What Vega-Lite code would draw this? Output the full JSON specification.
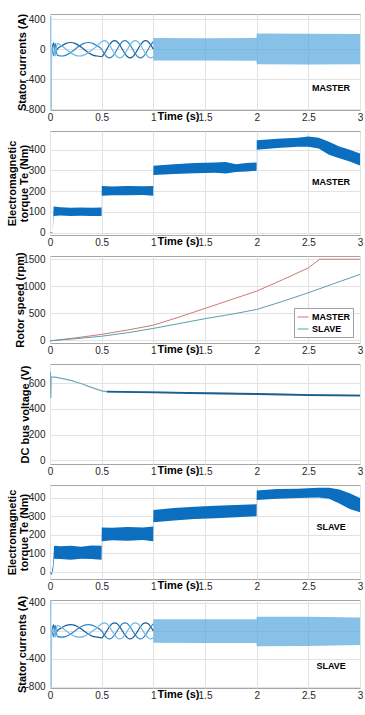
{
  "$schema": "https://vega.github.io/schema/vega-lite/v6.json",
  "padding": {"left": 5, "top": 12, "right": 0, "bottom": 0},
  "autosize": {"type": "pad"},
  "background": "white",
  "bounds": "flush",
  "spacing": 21,
  "resolve": {"scale": {"color": "independent", "strokeWidth": "independent"}, "legend": {"color": "independent", "strokeWidth": "independent"}},
  "config": {
    "font": "Liberation Sans",
    "view": {"stroke": "#a6a6a6", "strokeWidth": 1},
    "axis": {
      "labelFont": "Liberation Sans", "labelFontSize": 10, "labelColor": "#262626",
      "titleFont": "Liberation Sans", "titleFontSize": 11, "titleFontWeight": "bold", "titleColor": "#000000",
      "domain": false, "ticks": false, "gridColor": "#e2e2e2", "gridWidth": 1, "labelPadding": 2,
      "labelOverlap": false, "labelFlush": false, "labelBound": false
    },
    "axisX": {"titleX": 128, "titleY": 0, "titleBaseline": "top", "titleAlign": "center"},
    "axisY": {"titleBaseline": "top", "titleLineHeight": 12, "labelPadding": 5}
  },
  "datasets": {
    "cur": [
      {"t":0.02,"p":"a","i":0},{"t":0.035,"p":"a","i":85},{"t":0.05,"p":"a","i":-50},{"t":0.07,"p":"a","i":0},{"t":0.113,"p":"a","i":45},{"t":0.156,"p":"a","i":78},{"t":0.199,"p":"a","i":90},{"t":0.242,"p":"a","i":78},{"t":0.285,"p":"a","i":45},{"t":0.328,"p":"a","i":0},{"t":0.371,"p":"a","i":-45},{"t":0.414,"p":"a","i":-78},{"t":0.457,"p":"a","i":-90},{"t":0.5,"p":"a","i":-100},{"t":0.525,"p":"a","i":-58},{"t":0.55,"p":"a","i":0},{"t":0.575,"p":"a","i":58},{"t":0.6,"p":"a","i":100},{"t":0.625,"p":"a","i":115},{"t":0.65,"p":"a","i":100},{"t":0.675,"p":"a","i":58},{"t":0.7,"p":"a","i":0},{"t":0.725,"p":"a","i":-58},{"t":0.75,"p":"a","i":-100},{"t":0.775,"p":"a","i":-115},{"t":0.8,"p":"a","i":-100},{"t":0.825,"p":"a","i":-58},{"t":0.85,"p":"a","i":0},{"t":0.875,"p":"a","i":58},{"t":0.9,"p":"a","i":100},{"t":0.925,"p":"a","i":115},{"t":0.95,"p":"a","i":100},{"t":0.975,"p":"a","i":58},{"t":1.0,"p":"a","i":0},
      {"t":0.02,"p":"b","i":0},{"t":0.035,"p":"b","i":-85},{"t":0.05,"p":"b","i":80},{"t":0.07,"p":"b","i":-78},{"t":0.113,"p":"b","i":-90},{"t":0.156,"p":"b","i":-78},{"t":0.199,"p":"b","i":-45},{"t":0.242,"p":"b","i":0},{"t":0.285,"p":"b","i":45},{"t":0.328,"p":"b","i":78},{"t":0.371,"p":"b","i":90},{"t":0.414,"p":"b","i":78},{"t":0.457,"p":"b","i":45},{"t":0.5,"p":"b","i":0},{"t":0.525,"p":"b","i":-58},{"t":0.55,"p":"b","i":-100},{"t":0.575,"p":"b","i":-115},{"t":0.6,"p":"b","i":-100},{"t":0.625,"p":"b","i":-58},{"t":0.65,"p":"b","i":0},{"t":0.675,"p":"b","i":58},{"t":0.7,"p":"b","i":100},{"t":0.725,"p":"b","i":115},{"t":0.75,"p":"b","i":100},{"t":0.775,"p":"b","i":58},{"t":0.8,"p":"b","i":0},{"t":0.825,"p":"b","i":-58},{"t":0.85,"p":"b","i":-100},{"t":0.875,"p":"b","i":-115},{"t":0.9,"p":"b","i":-100},{"t":0.925,"p":"b","i":-58},{"t":0.95,"p":"b","i":0},{"t":0.975,"p":"b","i":58},{"t":1.0,"p":"b","i":100},
      {"t":0.02,"p":"c","i":0},{"t":0.035,"p":"c","i":40},{"t":0.05,"p":"c","i":-90},{"t":0.07,"p":"c","i":78},{"t":0.113,"p":"c","i":45},{"t":0.156,"p":"c","i":0},{"t":0.199,"p":"c","i":-45},{"t":0.242,"p":"c","i":-78},{"t":0.285,"p":"c","i":-90},{"t":0.328,"p":"c","i":-78},{"t":0.371,"p":"c","i":-45},{"t":0.414,"p":"c","i":0},{"t":0.457,"p":"c","i":45},{"t":0.5,"p":"c","i":100},{"t":0.525,"p":"c","i":115},{"t":0.55,"p":"c","i":100},{"t":0.575,"p":"c","i":58},{"t":0.6,"p":"c","i":0},{"t":0.625,"p":"c","i":-58},{"t":0.65,"p":"c","i":-100},{"t":0.675,"p":"c","i":-115},{"t":0.7,"p":"c","i":-100},{"t":0.725,"p":"c","i":-58},{"t":0.75,"p":"c","i":0},{"t":0.775,"p":"c","i":58},{"t":0.8,"p":"c","i":100},{"t":0.825,"p":"c","i":115},{"t":0.85,"p":"c","i":100},{"t":0.875,"p":"c","i":58},{"t":0.9,"p":"c","i":0},{"t":0.925,"p":"c","i":-58},{"t":0.95,"p":"c","i":-100},{"t":0.975,"p":"c","i":-115},{"t":1.0,"p":"c","i":-100}
    ],
    "bandM": [
      {"t":1.0,"i":-150,"i2":150},{"t":1.5,"i":-150,"i2":148},{"t":1.999,"i":-152,"i2":150},
      {"t":2.001,"i":-200,"i2":210},{"t":2.5,"i":-202,"i2":208},{"t":3.0,"i":-200,"i2":205}
    ],
    "bandS": [
      {"t":1.0,"i":-170,"i2":165},{"t":1.5,"i":-172,"i2":165},{"t":1.999,"i":-174,"i2":166},
      {"t":2.001,"i":-218,"i2":202},{"t":2.5,"i":-215,"i2":200},{"t":3.0,"i":-200,"i2":190}
    ],
    "spike": [{"t":0.0,"i":0},{"t":0.008,"i":440},{"t":0.012,"i":-805},{"t":0.017,"i":0}],
    "teM": [
      {"t":0,"i":0,"i2":2},{"t":0.025,"i":0,"i2":2},{"t":0.035,"i":80,"i2":125},{"t":0.1,"i":82,"i2":122},{"t":0.2,"i":80,"i2":120},{"t":0.3,"i":81,"i2":121},{"t":0.4,"i":80,"i2":120},{"t":0.499,"i":80,"i2":121},
      {"t":0.501,"i":178,"i2":225},{"t":0.6,"i":180,"i2":222},{"t":0.75,"i":180,"i2":224},{"t":0.9,"i":181,"i2":223},{"t":0.999,"i":178,"i2":225},
      {"t":1.001,"i":278,"i2":322},{"t":1.2,"i":282,"i2":330},{"t":1.4,"i":286,"i2":335},{"t":1.6,"i":288,"i2":338},{"t":1.7,"i":285,"i2":340},{"t":1.8,"i":292,"i2":330},{"t":1.9,"i":295,"i2":335},{"t":1.999,"i":298,"i2":338},
      {"t":2.001,"i":400,"i2":445},{"t":2.2,"i":408,"i2":452},{"t":2.4,"i":414,"i2":458},{"t":2.5,"i":414,"i2":463},{"t":2.6,"i":405,"i2":458},{"t":2.7,"i":375,"i2":438},{"t":2.8,"i":358,"i2":415},{"t":2.9,"i":343,"i2":400},{"t":3.0,"i":323,"i2":381}
    ],
    "teS": [
      {"t":0,"i":-5,"i2":0},{"t":0.015,"i":-20,"i2":-10},{"t":0.03,"i":10,"i2":40},{"t":0.04,"i":70,"i2":140},{"t":0.1,"i":68,"i2":138},{"t":0.2,"i":65,"i2":140},{"t":0.3,"i":70,"i2":135},{"t":0.4,"i":68,"i2":142},{"t":0.499,"i":65,"i2":140},
      {"t":0.501,"i":165,"i2":240},{"t":0.6,"i":170,"i2":238},{"t":0.75,"i":168,"i2":242},{"t":0.9,"i":172,"i2":240},{"t":0.999,"i":165,"i2":245},
      {"t":1.001,"i":268,"i2":335},{"t":1.2,"i":278,"i2":345},{"t":1.4,"i":285,"i2":352},{"t":1.6,"i":290,"i2":358},{"t":1.8,"i":295,"i2":362},{"t":1.999,"i":300,"i2":365},
      {"t":2.001,"i":388,"i2":440},{"t":2.2,"i":395,"i2":448},{"t":2.4,"i":400,"i2":450},{"t":2.6,"i":402,"i2":455},{"t":2.7,"i":395,"i2":455},{"t":2.8,"i":370,"i2":445},{"t":2.9,"i":340,"i2":425},{"t":3.0,"i":322,"i2":400}
    ],
    "spd": [
      {"t":0,"v":-10,"s":"MASTER"},{"t":0.25,"v":45,"s":"MASTER"},{"t":0.5,"v":110,"s":"MASTER"},{"t":0.75,"v":190,"s":"MASTER"},{"t":1.0,"v":280,"s":"MASTER"},{"t":1.25,"v":430,"s":"MASTER"},{"t":1.5,"v":590,"s":"MASTER"},{"t":1.75,"v":750,"s":"MASTER"},{"t":2.0,"v":910,"s":"MASTER"},{"t":2.25,"v":1120,"s":"MASTER"},{"t":2.5,"v":1340,"s":"MASTER"},{"t":2.61,"v":1500,"s":"MASTER"},{"t":3.0,"v":1500,"s":"MASTER"},
      {"t":0,"v":-10,"s":"SLAVE"},{"t":0.25,"v":30,"s":"SLAVE"},{"t":0.5,"v":75,"s":"SLAVE"},{"t":0.75,"v":140,"s":"SLAVE"},{"t":1.0,"v":220,"s":"SLAVE"},{"t":1.25,"v":310,"s":"SLAVE"},{"t":1.5,"v":400,"s":"SLAVE"},{"t":1.75,"v":480,"s":"SLAVE"},{"t":2.0,"v":570,"s":"SLAVE"},{"t":2.25,"v":720,"s":"SLAVE"},{"t":2.5,"v":880,"s":"SLAVE"},{"t":2.75,"v":1050,"s":"SLAVE"},{"t":3.0,"v":1220,"s":"SLAVE"}
    ],
    "dc": [
      {"t":0,"v":690,"s":"m"},{"t":0.005,"v":680,"s":"m"},{"t":0.008,"v":485,"s":"m"},{"t":0.011,"v":650,"s":"m"},{"t":0.05,"v":648,"s":"m"},{"t":0.1,"v":640,"s":"m"},{"t":0.2,"v":622,"s":"m"},{"t":0.3,"v":598,"s":"m"},{"t":0.4,"v":568,"s":"m"},{"t":0.5,"v":540,"s":"m"},{"t":0.55,"v":535,"s":"m"},{"t":1.0,"v":530,"s":"m"},{"t":1.5,"v":523,"s":"m"},{"t":2.0,"v":518,"s":"m"},{"t":2.5,"v":511,"s":"m"},{"t":3.0,"v":505,"s":"m"},
      {"t":0.55,"v":534,"s":"s"},{"t":1.0,"v":529,"s":"s"},{"t":1.5,"v":522,"s":"s"},{"t":2.0,"v":516,"s":"s"},{"t":2.5,"v":508,"s":"s"},{"t":3.0,"v":503,"s":"s"}
    ]
  },
  "vconcat": [
    {
      "width": 310, "height": 96,
      "encoding": {
        "x": {"field": "t", "type": "quantitative", "scale": {"domain": [0, 3], "nice": false}, "axis": {"values": [0,0.5,1,1.5,2,2.5,3], "labelExpr": "''+datum.value", "title": "Time (s)"}},
        "y": {"field": "i", "type": "quantitative", "scale": {"domain": [-810, 470], "nice": false, "zero": false}, "axis": {"values": [-800,-400,0,400], "labelExpr": "''+datum.value", "title": "Stator currents (A)", "titleX": -34}}
      },
      "layer": [
        {"data": {"name": "bandM"}, "mark": {"type": "area", "color": "#4fa3dc", "opacity": 0.68, "clip": true},
         "encoding": {"y2": {"field": "i2"}}},
        {"data": {"name": "cur"}, "mark": {"type": "line", "strokeWidth": 1.2, "interpolate": "monotone", "clip": true},
         "encoding": {"color": {"field": "p", "type": "nominal", "scale": {"domain": ["a","b","c"], "range": ["#1c5b96","#2f86c8","#6cbbe6"]}, "legend": null}}},
        {"data": {"name": "spike"}, "mark": {"type": "line", "strokeWidth": 1, "color": "#8cc8ea", "clip": true}, "encoding": {}},
        {"data": {"values": [{"t": 2.72, "i": -519, "label": "MASTER"}]}, "mark": {"type": "text", "fontSize": 9, "fontWeight": "bold", "color": "#000"},
         "encoding": {"text": {"field": "label"}}}
      ]
    },
    {
      "width": 310, "height": 104,
      "encoding": {
        "x": {"field": "t", "type": "quantitative", "scale": {"domain": [0, 3], "nice": false}, "axis": {"values": [0,0.5,1,1.5,2,2.5,3], "labelExpr": "''+datum.value", "title": "Time (s)"}},
        "y": {"field": "i", "type": "quantitative", "scale": {"domain": [-12, 490], "nice": false, "zero": false}, "axis": {"values": [0,100,200,300,400], "labelExpr": "''+datum.value", "title": ["Electromagnetic", "torque Te (Nm)"], "titleX": -44}}
      },
      "layer": [
        {"data": {"name": "teM"}, "mark": {"type": "area", "color": "#0b6ebf", "clip": true},
         "encoding": {"y2": {"field": "i2"}}},
        {"data": {"values": [{"t": 2.72, "i": 245, "label": "MASTER"}]}, "mark": {"type": "text", "fontSize": 9, "fontWeight": "bold", "color": "#000"},
         "encoding": {"text": {"field": "label"}}}
      ]
    },
    {
      "width": 310, "height": 87,
      "data": {"name": "spd"},
      "mark": {"type": "line", "strokeWidth": 1, "clip": true},
      "encoding": {
        "x": {"field": "t", "type": "quantitative", "scale": {"domain": [0, 3], "nice": false}, "axis": {"values": [0,0.5,1,1.5,2,2.5,3], "labelExpr": "''+datum.value", "title": "Time (s)"}},
        "y": {"field": "v", "type": "quantitative", "scale": {"domain": [-50, 1560], "nice": false, "zero": false}, "axis": {"values": [0,500,1000,1500], "labelExpr": "''+datum.value", "title": "Rotor speed (rpm)", "titleX": -36}},
        "color": {"field": "s", "type": "nominal", "scale": {"domain": ["MASTER","SLAVE"], "range": ["#c97c70","#5a9fa8"]},
          "legend": {"orient": "none", "legendX": 244, "legendY": 52, "title": null, "symbolType": "stroke", "symbolStrokeWidth": 1, "symbolSize": 121,
            "labelFont": "Liberation Sans", "labelFontWeight": "bold", "labelFontSize": 9, "labelColor": "#000", "fillColor": "#ffffff", "strokeColor": "#a0a0a0",
            "padding": 3, "rowPadding": 1, "labelOffset": 3}}
      }
    },
    {
      "width": 310, "height": 100,
      "data": {"name": "dc"},
      "mark": {"type": "line", "clip": true},
      "encoding": {
        "x": {"field": "t", "type": "quantitative", "scale": {"domain": [0, 3], "nice": false}, "axis": {"values": [0,0.5,1,1.5,2,2.5,3], "labelExpr": "''+datum.value", "title": "Time (s)"}},
        "y": {"field": "v", "type": "quantitative", "scale": {"domain": [-30, 750], "nice": false, "zero": false}, "axis": {"values": [0,200,400,600], "labelExpr": "''+datum.value", "title": "DC bus voltage (V)", "titleX": -31}},
        "color": {"field": "s", "type": "nominal", "scale": {"domain": ["m","s"], "range": ["#72a9b8","#1d5d8f"]}, "legend": null},
        "strokeWidth": {"field": "s", "type": "nominal", "scale": {"domain": ["m","s"], "range": [1.2, 1.8]}, "legend": null}
      }
    },
    {
      "width": 310, "height": 94,
      "encoding": {
        "x": {"field": "t", "type": "quantitative", "scale": {"domain": [0, 3], "nice": false}, "axis": {"values": [0,0.5,1,1.5,2,2.5,3], "labelExpr": "''+datum.value", "title": "Time (s)"}},
        "y": {"field": "i", "type": "quantitative", "scale": {"domain": [-40, 470], "nice": false, "zero": false}, "axis": {"values": [0,100,200,300,400], "labelExpr": "''+datum.value", "title": ["Electromagnetic", "torque Te (Nm)"], "titleX": -44}}
      },
      "layer": [
        {"data": {"name": "teS"}, "mark": {"type": "area", "color": "#0b6ebf", "clip": true},
         "encoding": {"y2": {"field": "i2"}}},
        {"data": {"values": [{"t": 2.72, "i": 243, "label": "SLAVE"}]}, "mark": {"type": "text", "fontSize": 9, "fontWeight": "bold", "color": "#000"},
         "encoding": {"text": {"field": "label"}}}
      ]
    },
    {
      "width": 310, "height": 88,
      "encoding": {
        "x": {"field": "t", "type": "quantitative", "scale": {"domain": [0, 3], "nice": false}, "axis": {"values": [0,0.5,1,1.5,2,2.5,3], "labelExpr": "''+datum.value", "title": "Time (s)"}},
        "y": {"field": "i", "type": "quantitative", "scale": {"domain": [-815, 440], "nice": false, "zero": false}, "axis": {"values": [-800,-400,0,400], "labelExpr": "''+datum.value", "title": "Stator currents (A)", "titleX": -34}}
      },
      "layer": [
        {"data": {"name": "bandS"}, "mark": {"type": "area", "color": "#4fa3dc", "opacity": 0.68, "clip": true},
         "encoding": {"y2": {"field": "i2"}}},
        {"data": {"name": "cur"}, "mark": {"type": "line", "strokeWidth": 1.2, "interpolate": "monotone", "clip": true},
         "encoding": {"color": {"field": "p", "type": "nominal", "scale": {"domain": ["a","b","c"], "range": ["#1c5b96","#2f86c8","#6cbbe6"]}, "legend": null}}},
        {"data": {"name": "spike"}, "mark": {"type": "line", "strokeWidth": 1, "color": "#8cc8ea", "clip": true}, "encoding": {}},
        {"data": {"values": [{"t": 2.72, "i": -499, "label": "SLAVE"}]}, "mark": {"type": "text", "fontSize": 9, "fontWeight": "bold", "color": "#000"},
         "encoding": {"text": {"field": "label"}}}
      ]
    }
  ]
}
